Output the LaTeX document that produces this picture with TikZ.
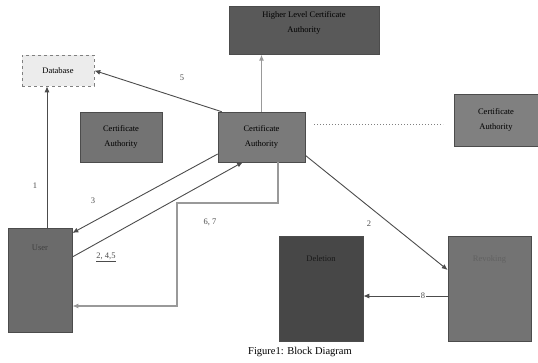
\documentclass[tikz,border=0pt]{standalone}
\usepackage{fontspec}
\setmainfont{Liberation Serif}
\usetikzlibrary{arrows.meta}
\begin{document}
\begin{tikzpicture}[x=1pt,y=-1pt,
  blk/.style={draw=gray!60!black, line width=0.6pt, inner sep=0pt, align=center, font=\fontsize{8.5}{15}\selectfont},
  top/.style={label={[anchor=north, yshift=-#1, font=\fontsize{8.5}{10}\selectfont, text=black!70]north:}},
  con/.style={draw=black!70, line width=0.9pt, -{Latex[length=6pt,width=5pt]}},
  gcon/.style={draw=gray!80, line width=1.3pt, -{Latex[length=6pt,width=5pt]}},
  lbl/.style={font=\fontsize{8.5}{10}\selectfont, text=black!70}]
\useasboundingbox (0,0) rectangle (538,362);
% boxes
\node[blk, draw=gray, dashed, fill=gray!15, minimum width=72pt, minimum height=31pt] (db) at (58,70.5) {Database};
\node[blk, fill=black!65, minimum width=150pt, minimum height=48pt, anchor=north] (hl) at (304,6) {};
\node[blk, anchor=north, fill=none, draw=none] (hlt) at (hl.north) [yshift=-5pt] {Higher Level Certificate\\Authority};
\node[blk, fill=black!55, minimum width=82pt, minimum height=50pt] (ca1) at (121,137) {Certificate\\Authority};
\node[blk, fill=black!52, minimum width=87pt, minimum height=50pt] (ca) at (261.5,137) {Certificate\\Authority};
\node[blk, fill=black!50, minimum width=84pt, minimum height=52pt] (ca2) at (496,120) {Certificate\\Authority};
\node[blk, fill=black!58, minimum width=64pt, minimum height=104pt, anchor=north] (us) at (40,228) {};
\node[blk, fill=black!72, minimum width=84pt, minimum height=105pt, anchor=north] (de) at (321,236) {};
\node[blk, fill=black!55, minimum width=83pt, minimum height=105pt, anchor=north] (rv) at (489.5,236) {};
\node[blk, draw=none, text=black!75, anchor=north] (ust) at (us.north) [yshift=-17pt] {User};
\node[blk, draw=none, text=black!90, anchor=north] (det) at (de.north) [yshift=-19pt] {Deletion};
\node[blk, draw=none, text=black!62, anchor=north] (rvt) at (rv.north) [yshift=-19pt] {Revoking};
\node[font=\fontsize{10.5}{12}\selectfont] (cap) at (300,352) {Figure1: Block Diagram};
% coordinates
\coordinate (cab) at (278,162);
\coordinate (k1) at (278,203);
\coordinate (k2) at (177,203);
\coordinate (k3) at (177,306);
% connectors
\draw[gcon] (ca.north) -- (ca.north |- hl.south);
\draw[con] (ca.north west) ++(4,0) coordinate (cnw) -- (db.east);
\draw[con] (us.north) ++(7,0) coordinate (ut) -- (ut |- db.south);
\draw[con] (ca.west) ++(0,17) coordinate (cw) -- (us.east |- 0,233);
\draw[con] (us.east |- 0,257) coordinate (ue) -- (243,162);
\draw[gcon] (cab) -- (k1) -- (k2) -- (k3) -- (us.east |- k3);
\draw[gray, dotted, line width=1pt] (314,124) -- (443,124);
\draw[con] (ca.south east) ++(0,-7) coordinate (cse) -- (rv.west |- 0,270);
\draw[con] (rv.west |- 0,296) -- (de.east |- 0,296);
% labels
\node[lbl] at (182,78) {5};
\node[lbl] at (35,186) {1};
\node[lbl] at (93,201) {3};
\node[lbl] at (106,257) {\underline{2, 4,5}};
\node[lbl] at (210,222) {6, 7};
\node[lbl] at (369,224) {2};
\node[lbl, fill=white, inner sep=1pt] at (423,296) {8};
\end{tikzpicture}
\end{document}
